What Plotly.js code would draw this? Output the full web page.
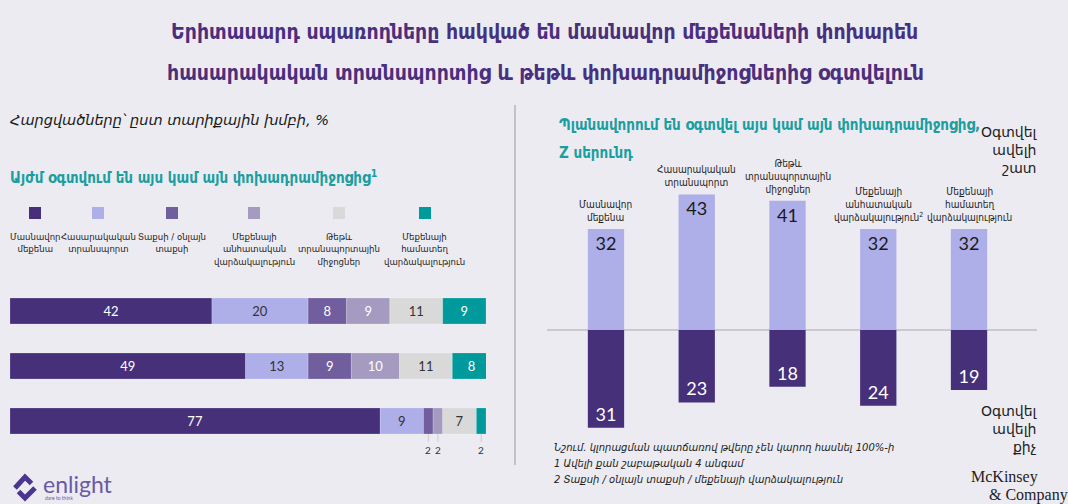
<!DOCTYPE html>
<html><head><meta charset="utf-8">
<script src="https://cdn.plot.ly/plotly-3.0.1.min.js"></script>
<style>html,body{margin:0;padding:0;background:#ecebf2;}#chart{width:1068px;height:504px;}</style>
</head><body><div id="chart"></div>
<script>
// ---- Left panel data: currently use (rows = age groups) ----
const rowIds = ['row1', 'row2', 'row3'];
const modeNames = ['Մասնավոր մեքենա', 'Հասարակական տրանսպորտ', 'Տաքսի / օնլայն տաքսի', 'Մեքենայի անհատական վարձակալություն', 'Թեթև տրանսպորտային միջոցներ', 'Մեքենայի համատեղ վարձակալություն'];
const modeLabels = ['Մասնավոր<br>մեքենա', 'Հասարակական<br>տրանսպորտ', 'Տաքսի / օնլայն<br>տաքսի', 'Մեքենայի<br>անհատական<br>վարձակալություն', 'Թեթև<br>տրանսպորտային<br>միջոցներ', 'Մեքենայի<br>համատեղ<br>վարձակալություն'];
const privateCar = [42, 49, 77];
const publicTransport = [20, 13, 9];
const taxi = [8, 9, 2];
const carRental = [9, 10, 2];
const lightVehicles = [11, 11, 7];
const carSharing = [9, 8, 2];

// ---- Right panel data: Gen Z plans ----
const zCategories = ['Մասնավոր մեքենա', 'Հասարակական տրանսպորտ', 'Թեթև տրանսպորտային միջոցներ', 'Մեքենայի անհատական վարձակալություն', 'Մեքենայի համատեղ վարձակալություն'];
const zLabels = ['Մասնավոր<br>մեքենա', 'Հասարակական<br>տրանսպորտ', 'Թեթև<br>տրանսպորտային<br>միջոցներ', 'Մեքենայի<br>անհատական<br>վարձակալություն<sup>2</sup>', 'Մեքենայի<br>համատեղ<br>վարձակալություն'];
const useMore = [32, 43, 41, 32, 32];
const useLess = [31, 23, 18, 24, 19];

// ---- styling ----
const W = 1068, H = 504;
const px = v => v / W;
const py = v => 1 - v / H;
const colors = ['#46307a', '#aeaee8', '#705e9e', '#a59bc1', '#d9d9d9', '#00999c'];
const textColors = ['#ffffff', '#333333', '#ffffff', '#ffffff', '#333333', '#ffffff'];
const series = [privateCar, publicTransport, taxi, carRental, lightVehicles, carSharing];
const headFont = 'DejaVu Sans Condensed, DejaVu Sans, sans-serif';
const bodyFont = 'DejaVu Sans, sans-serif';
const condFont = 'DejaVu Sans Condensed, DejaVu Sans, sans-serif';
const numFont = 'Lato, DejaVu Sans, sans-serif';
const teal = '#1a9ea0';

const traces = [];
series.forEach((vals, i) => {
  traces.push({
    type: 'bar', orientation: 'h', name: modeNames[i],
    x: vals, y: rowIds, xaxis: 'x', yaxis: 'y', width: 0.47,
    marker: {color: colors[i], line: {color: 'rgba(255,255,255,0.35)', width: 0.5}},
    text: vals.map(v => v >= 5 ? String(v) : ''),
    textposition: 'inside', insidetextanchor: 'middle', textangle: 0,
    constraintext: 'none',
    textfont: {family: numFont, size: 13, color: textColors[i]},
    hoverinfo: 'x+name', showlegend: false
  });
});
traces.push({
  type: 'bar', x: zCategories, y: useMore, xaxis: 'x2', yaxis: 'y2', width: 0.4,
  marker: {color: '#aeaee8'}, text: useMore.map(String),
  textposition: 'inside', insidetextanchor: 'end', textangle: 0, constraintext: 'none',
  textfont: {family: numFont, size: 18, color: '#1a1a1a'}, showlegend: false, name: 'Օգտվել ավելի շատ'
});
traces.push({
  type: 'bar', x: zCategories, y: useLess.map(v => -v), xaxis: 'x2', yaxis: 'y2', width: 0.4,
  marker: {color: '#46307a'}, text: useLess.map(String),
  textposition: 'inside', insidetextanchor: 'end', textangle: 0, constraintext: 'none',
  textfont: {family: numFont, size: 18, color: '#ffffff'}, showlegend: false, name: 'Օգտվել ավելի քիչ'
});

const annotations = [];
const shapes = [];
function ann(o) { annotations.push(Object.assign({xref: 'paper', yref: 'paper', showarrow: false}, o)); }

ann({x: px(544), y: py(32), text: 'Երիտասարդ սպառողները հակված են մասնավոր մեքենաների փոխարեն', font: {family: headFont, size: 21, color: '#4a2f7e', weight: 700}, xanchor: 'center', yanchor: 'middle'});
ann({x: px(545), y: py(73), text: 'հասարակական տրանսպորտից և թեթև փոխադրամիջոցներից օգտվելուն', font: {family: headFont, size: 21, color: '#4a2f7e', weight: 700}, xanchor: 'center', yanchor: 'middle'});
ann({x: px(8), y: py(120), text: '<i>Հարցվածները՝ ըստ տարիքային խմբի, %</i>', font: {family: bodyFont, size: 14.5, color: '#1a1a1a'}, xanchor: 'left', yanchor: 'middle'});
ann({x: px(8), y: py(177), text: 'Այժմ օգտվում են այս կամ այն փոխադրամիջոցից<sup>1</sup>', font: {family: headFont, size: 15, color: teal, weight: 700}, xanchor: 'left', yanchor: 'middle'});
ann({x: px(557), y: py(125), text: 'Պլանավորում են օգտվել այս կամ այն փոխադրամիջոցից,', font: {family: headFont, size: 15, color: teal, weight: 700}, xanchor: 'left', yanchor: 'middle'});
ann({x: px(557), y: py(153), text: 'Z սերունդ', font: {family: headFont, size: 15, color: teal, weight: 700}, xanchor: 'left', yanchor: 'middle'});

// legend
const legendX = [35, 98, 172, 254, 339, 425];
legendX.forEach((cx, i) => {
  shapes.push({type: 'rect', xref: 'paper', yref: 'paper', x0: px(cx - 6), x1: px(cx + 6), y0: py(219), y1: py(207), fillcolor: colors[i], line: {width: 0}});
  ann({x: px(cx), y: py(229), text: modeLabels[i], font: {family: condFont, size: 9.5, color: '#222'}, xanchor: 'center', yanchor: 'top', align: 'center'});
});

// small labels under row 3
series.forEach((vals, i) => {
  const v = vals[2];
  if (v < 5) {
    let cum = 0;
    for (let k = 0; k < i; k++) cum += series[k][2];
    annotations.push({xref: 'x', yref: 'y', x: cum + v / 2, y: 'row3', yshift: -13, showarrow: true, arrowhead: 0, arrowwidth: 1, arrowcolor: '#cccccc', ax: 0, ay: 8, text: String(v), font: {family: numFont, size: 10, color: '#333'}, yanchor: 'top'});
  }
});

// category labels above right bars
zCategories.forEach((c, i) => {
  annotations.push({xref: 'x2', yref: 'y2', x: c, y: useMore[i], yshift: 4, showarrow: false, text: zLabels[i], font: {family: condFont, size: 10, color: '#222'}, xanchor: 'center', yanchor: 'bottom', align: 'center'});
});

ann({x: px(1040), y: py(122), text: 'Օգտվել<br>ավելի<br>շատ', font: {family: bodyFont, size: 14, color: '#222'}, xanchor: 'right', yanchor: 'top', align: 'right'});
ann({x: px(1040), y: py(401), text: 'Օգտվել<br>ավելի<br>քիչ', font: {family: bodyFont, size: 14, color: '#222'}, xanchor: 'right', yanchor: 'top', align: 'right'});

ann({x: px(552), y: py(447), text: '<i>Նշում. կլորացման պատճառով թվերը չեն կարող հասնել 100%-ի</i>', font: {family: bodyFont, size: 10, color: '#222'}, xanchor: 'left', yanchor: 'middle'});
ann({x: px(552), y: py(463), text: '<i>1 Ավելի քան շաբաթական 4 անգամ</i>', font: {family: bodyFont, size: 10, color: '#222'}, xanchor: 'left', yanchor: 'middle'});
ann({x: px(552), y: py(479), text: '<i>2 Տաքսի / օնլայն տաքսի / մեքենայի վարձակալություն</i>', font: {family: bodyFont, size: 10, color: '#222'}, xanchor: 'left', yanchor: 'middle'});

// logos
ann({x: px(41), y: py(484), text: 'enlight', font: {family: 'Lato, sans-serif', size: 23, color: '#6a5aa6'}, xanchor: 'left', yanchor: 'middle'});
ann({x: px(43), y: py(498), text: 'dare to think', font: {family: 'Lato, sans-serif', size: 5, color: '#6a5aa6'}, xanchor: 'left', yanchor: 'middle'});
ann({x: px(969), y: py(477), text: 'McKinsey', font: {family: 'Liberation Serif, serif', size: 16, color: '#222'}, xanchor: 'left', yanchor: 'middle'});
ann({x: px(987), y: py(495), text: '&amp; Company', font: {family: 'Liberation Serif, serif', size: 16, color: '#222'}, xanchor: 'left', yanchor: 'middle'});

function pth(pts) { return 'M ' + pts.map(p => px(p[0]) + ' ' + py(p[1])).join(' L '); }
shapes.push({type: 'path', xref: 'paper', yref: 'paper', path: pth([[15, 488], [25, 477], [31.5, 483.5]]), line: {color: '#4b3590', width: 5}});
shapes.push({type: 'path', xref: 'paper', yref: 'paper', path: pth([[35, 488], [25, 498], [18.5, 491.5]]), line: {color: '#4b3590', width: 5}});

// separator and zero line
shapes.push({type: 'line', xref: 'paper', yref: 'paper', x0: px(515), x1: px(515), y0: py(105), y1: py(465), line: {color: '#9a9a9a', width: 1}});
shapes.push({type: 'line', xref: 'paper', yref: 'y2', x0: px(547), x1: px(1037), y0: 0, y1: 0, line: {color: '#a8a8a8', width: 1}, layer: 'below'});

const layout = {
  width: W, height: H, margin: {l: 0, r: 0, t: 0, b: 0},
  paper_bgcolor: '#ecebf2', plot_bgcolor: 'rgba(0,0,0,0)',
  barmode: 'relative', showlegend: false,
  xaxis: {domain: [px(10), px(486)], range: [0, 99], showgrid: false, zeroline: false, showticklabels: false, fixedrange: true},
  yaxis: {domain: [py(448.5), py(283.5)], type: 'category', categoryorder: 'array', categoryarray: rowIds, autorange: 'reversed', showgrid: false, zeroline: false, showticklabels: false},
  xaxis2: {domain: [px(560.6), px(1014.4)], anchor: 'y2', type: 'category', showgrid: false, zeroline: false, showticklabels: false},
  yaxis2: {domain: [py(440), py(150)], anchor: 'x2', range: [-34.9, 57.1], showgrid: false, zeroline: false, showticklabels: false},
  annotations: annotations, shapes: shapes,
  font: {family: bodyFont}
};
Plotly.newPlot('chart', traces, layout, {displayModeBar: false, staticPlot: true});
</script></body></html>
